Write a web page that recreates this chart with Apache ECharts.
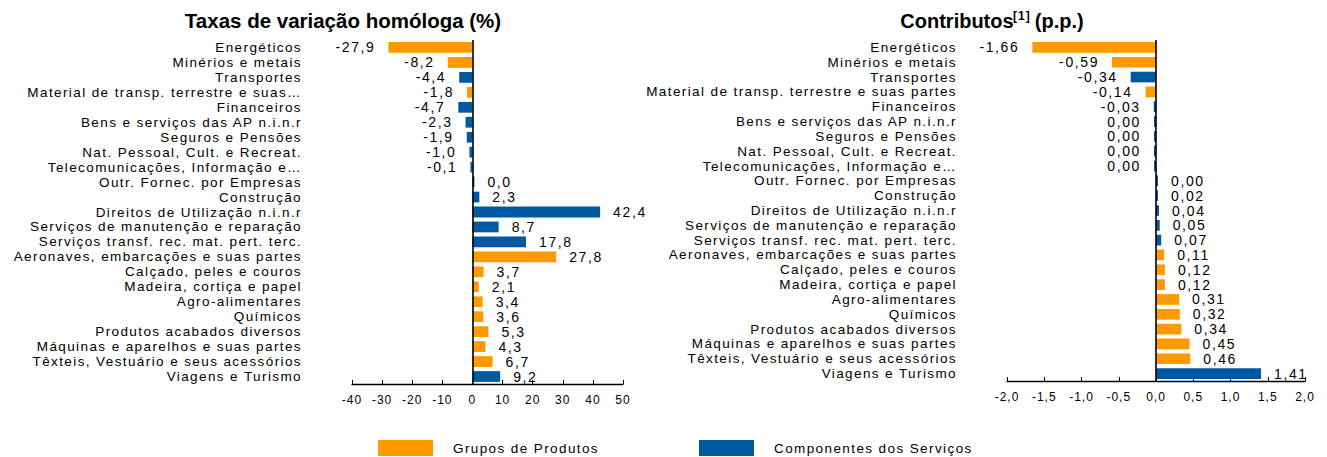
<!DOCTYPE html>
<html>
<head>
<meta charset="utf-8">
<title>Taxas de variação homóloga e contributos</title>
<script src="https://cdn.jsdelivr.net/npm/echarts@6/dist/echarts.min.js"></script>
<style>
html, body { margin: 0; padding: 0; background: #fff; }
#chart { width: 1327px; height: 457px; }
/* texto espaçado como no original */
#chart text[style*="13.5px"] { letter-spacing: 1.4px; }
#chart text[style*="14px"] { letter-spacing: 1.6px; }
#chart text[style*="12px"] { letter-spacing: 1px; }
</style>
</head>
<body>
<div id="chart"></div>
<script>
var categoriasTaxas = ['Energéticos', 'Minérios e metais', 'Transportes', 'Material de transp. terrestre e suas…',
    'Financeiros', 'Bens e serviços das AP n.i.n.r', 'Seguros e Pensões', 'Nat. Pessoal, Cult. e Recreat.',
    'Telecomunicações, Informação e…', 'Outr. Fornec. por Empresas', 'Construção', 'Direitos de Utilização n.i.n.r',
    'Serviços de manutenção e reparação', 'Serviços transf. rec. mat. pert. terc.', 'Aeronaves, embarcações e suas partes',
    'Calçado, peles e couros', 'Madeira, cortiça e papel', 'Agro-alimentares', 'Químicos', 'Produtos acabados diversos',
    'Máquinas e aparelhos e suas partes', 'Têxteis, Vestuário e seus acessórios', 'Viagens e Turismo'];

var categoriasContrib = ['Energéticos', 'Minérios e metais', 'Transportes', 'Material de transp. terrestre e suas partes',
    'Financeiros', 'Bens e serviços das AP n.i.n.r', 'Seguros e Pensões', 'Nat. Pessoal, Cult. e Recreat.',
    'Telecomunicações, Informação e…', 'Outr. Fornec. por Empresas', 'Construção', 'Direitos de Utilização n.i.n.r',
    'Serviços de manutenção e reparação', 'Serviços transf. rec. mat. pert. terc.', 'Aeronaves, embarcações e suas partes',
    'Calçado, peles e couros', 'Madeira, cortiça e papel', 'Agro-alimentares', 'Químicos', 'Produtos acabados diversos',
    'Máquinas e aparelhos e suas partes', 'Têxteis, Vestuário e seus acessórios', 'Viagens e Turismo'];

// P = Grupos de Produtos, S = Componentes dos Serviços
var grupos = ['P', 'P', 'S', 'P', 'S', 'S', 'S', 'S', 'S', 'S', 'S', 'S', 'S', 'S', 'P', 'P', 'P', 'P', 'P', 'P', 'P', 'P', 'S'];

var taxas = [-27.9, -8.2, -4.4, -1.8, -4.7, -2.3, -1.9, -1.0, -0.1, 0.0, 2.3, 42.4, 8.7, 17.8, 27.8,
    3.7, 2.1, 3.4, 3.6, 5.3, 4.3, 6.7, 9.2];

var contributos = [-1.66, -0.59, -0.34, -0.14, -0.03, -0.004, -0.004, -0.004, -0.004, 0.001, 0.02, 0.04, 0.05, 0.07, 0.11,
    0.12, 0.12, 0.31, 0.32, 0.34, 0.45, 0.46, 1.41];

var ticksTaxas = { min: -40, max: 50, interval: 10 };
var ticksContrib = { min: -2, max: 2, interval: 0.5 };

var nomeProdutos = 'Grupos de Produtos';
var nomeServicos = 'Componentes dos Serviços';
var corProdutos = '#FF9900';
var corServicos = '#0059A0';
var fonte = 'Liberation Sans';

function fmt1(v) {
    return v.toFixed(1).replace('.', ',');
}
function fmt2(v) {
    if (Math.abs(v) < 0.005) return '0,00';
    return v.toFixed(2).replace('.', ',');
}

function serie(nome, cor, tipo, valores, idx, fmt, comZero) {
    var s = {
        name: nome,
        type: 'bar',
        xAxisIndex: idx,
        yAxisIndex: idx,
        barGap: '-100%',
        barCategoryGap: '28%',
        barMinHeight: 2,
        itemStyle: { color: cor },
        label: {
            show: true,
            distance: 13,
            offset: [0, 0],
            fontSize: 14,
            fontFamily: fonte,
            color: '#000',
            formatter: function (p) { return fmt(p.value); }
        },
        data: valores.map(function (v, i) {
            if (grupos[i] !== tipo) return '-';
            return { value: v, label: { position: v < 0 ? 'left' : 'right' } };
        })
    };
    if (comZero) {
        s.markLine = {
            silent: true,
            symbol: ['none', 'none'],
            label: { show: false },
            lineStyle: { color: '#000', width: 1.6, type: 'solid' },
            data: [{ xAxis: 0 }]
        };
    }
    return s;
}

function eixoX(idx, t, fmt) {
    return {
        type: 'value',
        gridIndex: idx,
        min: t.min,
        max: t.max,
        interval: t.interval,
        splitLine: { show: false },
        axisLine: { show: true, onZero: false, lineStyle: { color: '#000', width: 1.3 } },
        axisTick: { show: true, inside: true, length: 4, lineStyle: { color: '#000' } },
        axisLabel: { fontSize: 12, fontFamily: fonte, color: '#000', margin: 10, formatter: fmt }
    };
}

function eixoY(idx, cats) {
    return {
        type: 'category',
        gridIndex: idx,
        inverse: true,
        data: cats,
        axisLine: { show: false, onZero: false },
        axisTick: { show: false },
        axisLabel: { interval: 0, fontSize: 13.5, fontFamily: fonte, color: '#000', margin: 50 }
    };
}

// retângulo de 55x16 com espaço extra à direita para afastar o texto
function legenda(nome, x) {
    return {
        data: [nome],
        left: x, top: 440, padding: 0,
        itemWidth: 70, itemHeight: 16,
        icon: 'path://M0,0H55V16H0Z M70,0',
        selectedMode: false,
        textStyle: { fontSize: 13.5, fontFamily: fonte, color: '#000' }
    };
}

var myChart = echarts.init(document.getElementById('chart'), null, { renderer: 'svg' });

var option = {
    animation: false,
    backgroundColor: '#fff',
    title: [{
        text: 'Taxas de variação homóloga (%)',
        left: 343, top: 10, padding: 0, textAlign: 'center',
        textStyle: { fontSize: 20.5, fontWeight: 'bold', fontFamily: fonte, color: '#000' }
    }, {
        text: '{t|Contributos}{s|[1]}{t| (p.p.)}',
        left: 992, top: 10, padding: 0, textAlign: 'center',
        textStyle: {
            rich: {
                t: { fontSize: 20, fontWeight: 'bold', fontFamily: fonte, color: '#000' },
                s: { fontSize: 12, fontWeight: 'bold', fontFamily: fonte, color: '#000', verticalAlign: 'top', padding: [0, 0, 9, 1] }
            }
        }
    }],
    legend: [legenda(nomeProdutos, 378), legenda(nomeServicos, 699)],
    grid: [
        { left: 352, width: 271, top: 40, height: 344 },
        { left: 1007, width: 298, top: 40, height: 341 }
    ],
    xAxis: [
        eixoX(0, ticksTaxas, function (v) { return String(v); }),
        eixoX(1, ticksContrib, function (v) { return v.toFixed(1).replace('.', ','); })
    ],
    yAxis: [eixoY(0, categoriasTaxas), eixoY(1, categoriasContrib)],
    series: [
        serie(nomeProdutos, corProdutos, 'P', taxas, 0, fmt1, true),
        serie(nomeServicos, corServicos, 'S', taxas, 0, fmt1, false),
        serie(nomeProdutos, corProdutos, 'P', contributos, 1, fmt2, true),
        serie(nomeServicos, corServicos, 'S', contributos, 1, fmt2, false)
    ]
};

myChart.setOption(option);
</script>
</body>
</html>
